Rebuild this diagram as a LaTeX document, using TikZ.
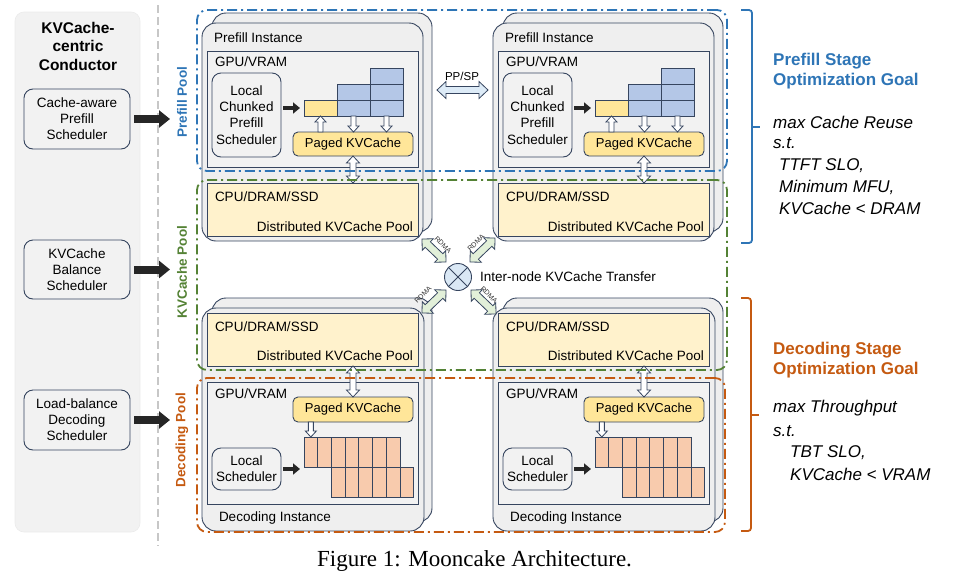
\documentclass[tikz,border=0pt]{standalone}
\usepackage{fontspec}
\setmainfont{Liberation Sans}
\newfontfamily\capfont{Liberation Serif}
\usetikzlibrary{arrows.meta,calc}
\definecolor{navy}{HTML}{36455F}
\definecolor{cardfill}{HTML}{EFEFEF}
\definecolor{gpufill}{HTML}{F2F2F2}
\definecolor{cpufill}{HTML}{FFF2CC}
\definecolor{pagedfill}{HTML}{FFE699}
\definecolor{bluecell}{HTML}{B4C7E7}
\definecolor{orangecell}{HTML}{F8CBAD}
\definecolor{panelfill}{HTML}{F2F2F2}
\definecolor{bluec}{HTML}{2E75B6}
\definecolor{greenc}{HTML}{548235}
\definecolor{orangec}{HTML}{C55A11}
\definecolor{arrowdark}{HTML}{262626}
\definecolor{hubfill}{HTML}{DAE8F5}
\definecolor{rdmafill}{HTML}{E2F0D9}
\definecolor{ppfill}{HTML}{DDEBF7}
\newcommand\bx[7]{\node[#1,anchor=north west,minimum width={((#4)-(#2))*1pt},minimum height={((#5)-(#3))*1pt}] (#6) at (#2,#3) {#7};}
\newcommand\blk[6]{\draw[#1] let \p1=(#2),\p2=(#3),\n1={veclen(\x2-\x1,\y2-\y1)},\n2={atan2(\y2-\y1,\x2-\x1)} in [shift={(\p1)},rotate=\n2]
  (0pt,-#4pt) -- ({(\n1-#6)*1pt},-#4pt) -- ({(\n1-#6)*1pt},-#5pt) -- ({\n1*1pt},0pt) -- ({(\n1-#6)*1pt},#5pt) -- ({(\n1-#6)*1pt},#4pt) -- (0pt,#4pt) -- cycle;}
\newcommand\dblk[6]{\draw[#1] let \p1=(#2),\p2=(#3),\n1={veclen(\x2-\x1,\y2-\y1)},\n2={atan2(\y2-\y1,\x2-\x1)} in [shift={(\p1)},rotate=\n2]
  (0pt,0pt) -- (#6pt,#5pt) -- (#6pt,#4pt) -- ({(\n1-#6)*1pt},#4pt) -- ({(\n1-#6)*1pt},#5pt) -- ({\n1*1pt},0pt) -- ({(\n1-#6)*1pt},-#5pt) -- ({(\n1-#6)*1pt},-#4pt) -- (#6pt,-#4pt) -- (#6pt,-#5pt) -- cycle;}
\tikzset{
 card/.style={draw=navy,fill=cardfill,line width=0.9pt,rounded corners=14pt,inner sep=0,outer sep=0},
 gpubox/.style={draw=navy,fill=gpufill,line width=0.9pt,inner sep=0,outer sep=0},
 cpubox/.style={gpubox,fill=cpufill},
 sched/.style={draw=navy,fill=gpufill,line width=0.9pt,rounded corners=9pt,inner sep=0,outer sep=0,align=center,font=\fontsize{13.5}{16.3}\selectfont},
 csched/.style={sched,font=\fontsize{13.5}{16}\selectfont},
 paged/.style={draw=navy,fill=pagedfill,line width=0.9pt,rounded corners=5pt,inner sep=0,outer sep=0,font=\fontsize{13}{15}\selectfont},
 ycell/.style={draw=navy,fill=pagedfill,line width=0.8pt,inner sep=0,outer sep=0},
 bcell/.style={ycell,fill=bluecell},
 ocell/.style={ycell,fill=orangecell},
 panel/.style={draw=black!8,fill=panelfill,line width=0.6pt,rounded corners=9pt,inner sep=0,outer sep=0},
 lbl/.style={inner sep=0,outer sep=0,font=\fontsize{13.5}{16}\selectfont},
 pool/.style={line width=1.8pt,rounded corners=10pt,dash pattern=on 10pt off 4pt on 2pt off 4pt,inner sep=0,outer sep=0,fill=none},
 hollow/.style={draw=navy,fill=white,line width=0.8pt,line join=miter},
 ppst/.style={draw=navy,fill=ppfill,line width=0.8pt,line join=miter},
 rdmast/.style={draw=navy,fill=rdmafill,line width=0.8pt,line join=miter},
 bigarrow/.style={draw=arrowdark,line width=8pt,-{Triangle[length=11pt,width=17pt]}},
 smallarrow/.style={draw=arrowdark,line width=4.5pt,-{Triangle[length=7pt,width=11pt]}},
 poollbl/.style={rotate=90,inner sep=0,font=\bfseries\fontsize{13.5}{16}\selectfont},
 rdmalbl/.style={inner sep=0,font=\fontsize{7}{8}\selectfont,text=black!80},
 goalhead/.style={anchor=west,inner sep=0,align=left,font=\bfseries\fontsize{17}{20}\selectfont},
 goaltext/.style={anchor=west,inner sep=0,font=\itshape\fontsize{17}{20}\selectfont},
 brace/.style={line width=1.8pt,rounded corners=3pt},
}
\begin{document}
\begin{tikzpicture}[x=1pt,y=-1pt]
\useasboundingbox (0,0) rectangle (956,579);
% conductor
\bx{panel}{15}{12}{140}{532}{cond}{}
\node[align=center,inner sep=0,font=\bfseries\fontsize{15.5}{18.5}\selectfont] (ctitle) at (78,46) {KVCache-\\centric\\Conductor};
\bx{csched}{24}{89}{130}{149}{sA}{Cache-aware\\Prefill\\Scheduler}
\bx{csched}{24}{240}{130}{299}{sB}{KVCache\\Balance\\Scheduler}
\bx{csched}{24}{390}{130}{450}{sC}{Load-balance\\Decoding\\Scheduler}
\coordinate (dl1) at (158,5);
\coordinate (dl2) at (158,546);
\draw[black!22,line width=1.5pt,dash pattern=on 8pt off 4pt] (dl1) -- (dl2);
\coordinate (aA) at (170,119);
\coordinate (aB) at (170,269.5);
\coordinate (aC) at (170,420);
\draw[bigarrow,shorten <=4pt] (sA.east) -- (aA);
\draw[bigarrow,shorten <=4pt] (sB.east) -- (aB);
\draw[bigarrow,shorten <=4pt] (sC.east) -- (aC);
\node[poollbl,text=bluec] (plbl) at (182,102) {Prefill Pool};
\node[poollbl,text=greenc] (klbl) at (182,272) {KVCache Pool};
\node[poollbl,text=orangec] (dlbl) at (182,440) {Decoding Pool};
% prefill instances
\foreach \dx/\q in {0/a,291/b}{
 \bx{card}{212+\dx}{13}{432+\dx}{232}{pback\q}{}
 \bx{card}{202+\dx}{23}{423+\dx}{241}{pcard\q}{}
 \node[lbl,anchor=west] (ptitle\q) at (214+\dx,38) {Prefill Instance};
 \bx{gpubox}{207+\dx}{51}{418+\dx}{167}{pgpu\q}{}
 \node[lbl,anchor=west] (pgpul\q) at (215+\dx,62) {GPU/VRAM};
 \bx{sched}{212+\dx}{73}{281+\dx}{157}{plocal\q}{Local\\Chunked\\Prefill\\Scheduler}
 \bx{ycell}{304+\dx}{100}{337+\dx}{116}{pyel\q}{}
 \bx{bcell}{337+\dx}{84}{370+\dx}{100}{pbm\q}{}
 \bx{bcell}{337+\dx}{100}{370+\dx}{116}{pbb\q}{}
 \bx{bcell}{370+\dx}{68}{403+\dx}{84}{pct\q}{}
 \bx{bcell}{370+\dx}{84}{403+\dx}{100}{pcm\q}{}
 \bx{bcell}{370+\dx}{100}{403+\dx}{116}{pcb\q}{}
 \draw[smallarrow,shorten <=2pt,shorten >=4pt] (plocal\q.east |- pyel\q.west) -- (pyel\q.west);
 \bx{paged}{293+\dx}{132}{413+\dx}{156}{ppaged\q}{Paged KVCache}
 \blk{hollow}{pyel\q.south |- ppaged\q.north}{pyel\q.south}{2.5}{5.5}{6}
 \blk{hollow}{pbb\q.south}{pbb\q.south |- ppaged\q.north}{2.5}{5.5}{6}
 \blk{hollow}{pcb\q.south}{pcb\q.south |- ppaged\q.north}{2.5}{5.5}{6}
 \bx{cpubox}{207+\dx}{183}{418+\dx}{236}{pcpu\q}{}
 \node[lbl,anchor=west] (pcpul\q) at (215+\dx,197) {CPU/DRAM/SSD};
 \node[lbl,anchor=east] (pdist\q) at (413+\dx,227) {Distributed KVCache Pool};
 \dblk{hollow}{ppaged\q.south}{ppaged\q.south |- pcpu\q.north}{3}{6.5}{7}
}
% decoding instances
\foreach \dx/\q in {0/a,291/b}{
 \bx{card}{212+\dx}{298}{432+\dx}{522}{dback\q}{}
 \bx{card}{202+\dx}{308}{424+\dx}{531}{dcard\q}{}
 \bx{cpubox}{207+\dx}{313}{418+\dx}{366}{dcpu\q}{}
 \node[lbl,anchor=west] (dcpul\q) at (215+\dx,327) {CPU/DRAM/SSD};
 \node[lbl,anchor=east] (ddist\q) at (413+\dx,356) {Distributed KVCache Pool};
 \bx{gpubox}{207+\dx}{382}{418+\dx}{504}{dgpu\q}{}
 \node[lbl,anchor=west] (dgpul\q) at (215+\dx,394) {GPU/VRAM};
 \bx{paged}{293+\dx}{397}{413+\dx}{422}{dpaged\q}{Paged KVCache}
 \foreach \i in {0,...,6}{\bx{ocell}{304+\dx+13.7*\i}{437}{317.7+\dx+13.7*\i}{467}{do\q\i}{}}
 \foreach \i in {0,...,5}{\bx{ocell}{331.4+\dx+13.7*\i}{467}{345.1+\dx+13.7*\i}{497}{dp\q\i}{}}
 \bx{sched}{212+\dx}{448}{281+\dx}{490}{dlocal\q}{Local\\Scheduler}
 \draw[smallarrow,shorten <=2pt,shorten >=4pt] (dlocal\q.east) -- (dlocal\q.east -| do\q0.west);
 \node[lbl,anchor=west] (dtitle\q) at (219+\dx,518) {Decoding Instance};
 \dblk{hollow}{dpaged\q.north |- dcpu\q.south}{dpaged\q.north}{3}{6.5}{7}
 \blk{hollow}{do\q0.north |- dpaged\q.south}{do\q0.north}{2.5}{5.5}{6}
}
% pools
\bx{pool,draw=bluec}{197}{10}{727}{171}{ppool}{}
\bx{pool,draw=greenc}{197}{180}{727}{370}{kpool}{}
\bx{pool,draw=orangec}{197}{378}{725}{532}{dpool}{}
% PP/SP
\coordinate (ppl) at (437,90);
\coordinate (ppr) at (488,90);
\dblk{ppst}{ppl}{ppr}{3.5}{8.5}{9}
\node[inner sep=0,font=\fontsize{11.5}{13}\selectfont] (pplbl) at (462,76) {PP/SP};
% hub
\node[circle,draw=navy,fill=hubfill,minimum size=27pt,inner sep=0,line width=0.9pt] (hub) at (458,277) {};
\draw[navy,line width=0.8pt] (hub.north west) -- (hub.south east) (hub.north east) -- (hub.south west);
\node[lbl,anchor=west] (hublbl) at (480,277) {Inter-node KVCache Transfer};
\coordinate (r1a) at (422,239); \coordinate (r1b) at (446,262);
\coordinate (r2a) at (470,262); \coordinate (r2b) at (495,238);
\coordinate (r3a) at (446,290); \coordinate (r3b) at (422,313);
\coordinate (r4a) at (471,290); \coordinate (r4b) at (496,314);
\dblk{rdmast}{r1a}{r1b}{3.8}{8}{8}
\dblk{rdmast}{r2a}{r2b}{3.8}{8}{8}
\dblk{rdmast}{r3a}{r3b}{3.8}{8}{8}
\dblk{rdmast}{r4a}{r4b}{3.8}{8}{8}
\node[rdmalbl,rotate=-45] (rl1) at (443,245) {RDMA};
\node[rdmalbl,rotate=45] (rl2) at (476,243) {RDMA};
\node[rdmalbl,rotate=45] (rl3) at (423,295) {RDMA};
\node[rdmalbl,rotate=-45] (rl4) at (489,295) {RDMA};
% braces
\draw[brace,bluec] (741,10) -- (752,10) -- (752,243) -- (741,243);
\draw[line width=1.8pt,bluec] (752,127) -- (760,127);
\draw[brace,orangec] (741,298) -- (751,298) -- (751,531) -- (741,531);
\draw[line width=1.8pt,orangec] (751,415) -- (759,415);
% goals
\node[goalhead,text=bluec] (pg) at (773,71.5) {Prefill Stage\\Optimization Goal};
\node[goaltext] (pg1) at (773,122) {max Cache Reuse};
\node[goaltext] (pg2) at (773,143) {s.t.};
\node[goaltext] (pg3) at (779,166) {TTFT SLO,};
\node[goaltext] (pg4) at (779,187) {Minimum MFU,};
\node[goaltext] (pg5) at (779,208) {KVCache < DRAM};
\node[goalhead,text=orangec] (dg) at (773,360.5) {Decoding Stage\\Optimization Goal};
\node[goaltext] (dg1) at (773,408) {max Throughput};
\node[goaltext] (dg2) at (773,431) {s.t.};
\node[goaltext] (dg3) at (790,453) {TBT SLO,};
\node[goaltext] (dg4) at (790,474) {KVCache < VRAM};
% caption
\node[inner sep=0,font=\capfont\fontsize{23}{26}\selectfont] (cap) at (474.5,561) {Figure 1: Mooncake Architecture.};
\end{tikzpicture}
\end{document}
